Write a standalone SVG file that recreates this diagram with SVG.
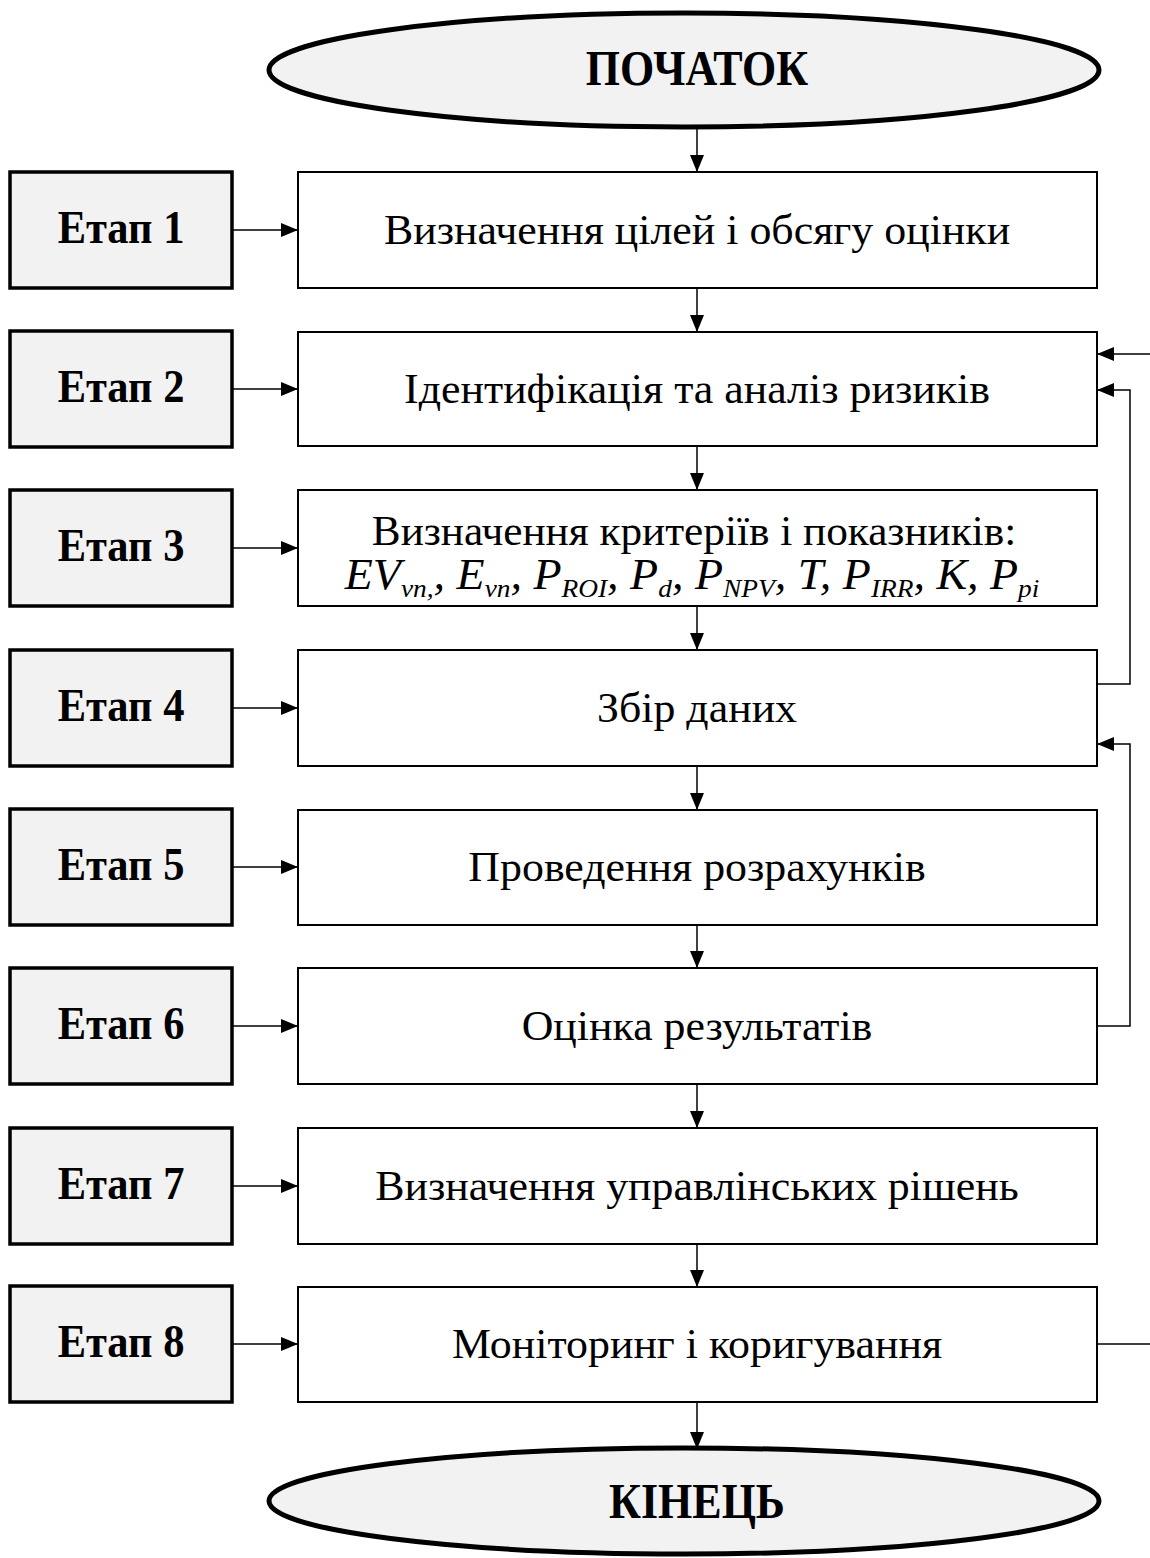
<svg xmlns="http://www.w3.org/2000/svg" width="1150" height="1558" viewBox="0 0 1150 1558">
  <style>
    .term { fill: #f2f2f2; stroke: #000; stroke-width: 5; }
    .stage { fill: #f2f2f2; stroke: #000; stroke-width: 3.5; }
    .step { fill: #fff; stroke: #000; stroke-width: 2; }
    .lbl { font-family: "Liberation Serif", "Times New Roman", serif; fill: #000; text-anchor: middle; }
    .ttl { font-size: 44px; font-weight: bold; }
    .stg { font-size: 42.5px; font-weight: bold; }
    .txt { font-size: 42px; }
    .it { font-style: italic; }
    .sub { font-size: 25px; }
    .wire { fill: none; stroke: #000; stroke-width: 1.5; }
  </style>
  <defs>
    <marker id="ah" viewBox="0 0 17 14" refX="17" refY="7" markerWidth="17" markerHeight="14" markerUnits="userSpaceOnUse" orient="auto">
      <path d="M0,0 L17,7 L0,14 Z" fill="#000"/>
    </marker>
  </defs>
  <rect width="1150" height="1558" fill="#fff"/>

  <!-- connectors -->
  <g id="connectors" class="wire">
    <line x1="697" y1="127" x2="697" y2="172" marker-end="url(#ah)"/>
    <line x1="697" y1="288" x2="697" y2="332" marker-end="url(#ah)"/>
    <line x1="697" y1="446" x2="697" y2="490" marker-end="url(#ah)"/>
    <line x1="697" y1="606" x2="697" y2="650" marker-end="url(#ah)"/>
    <line x1="697" y1="766" x2="697" y2="810" marker-end="url(#ah)"/>
    <line x1="697" y1="925" x2="697" y2="968" marker-end="url(#ah)"/>
    <line x1="697" y1="1084" x2="697" y2="1128" marker-end="url(#ah)"/>
    <line x1="697" y1="1244" x2="697" y2="1287" marker-end="url(#ah)"/>
    <line x1="697" y1="1402" x2="697" y2="1449" marker-end="url(#ah)"/>

    <line x1="232" y1="230" x2="298" y2="230" marker-end="url(#ah)"/>
    <line x1="232" y1="389" x2="298" y2="389" marker-end="url(#ah)"/>
    <line x1="232" y1="548" x2="298" y2="548" marker-end="url(#ah)"/>
    <line x1="232" y1="708" x2="298" y2="708" marker-end="url(#ah)"/>
    <line x1="232" y1="867" x2="298" y2="867" marker-end="url(#ah)"/>
    <line x1="232" y1="1026" x2="298" y2="1026" marker-end="url(#ah)"/>
    <line x1="232" y1="1186" x2="298" y2="1186" marker-end="url(#ah)"/>
    <line x1="232" y1="1344" x2="298" y2="1344" marker-end="url(#ah)"/>

    <!-- feedback loops on the right -->
    <line x1="1150" y1="354" x2="1097" y2="354" marker-end="url(#ah)"/>
    <polyline points="1097,684 1130,684 1130,390 1097,390" marker-end="url(#ah)"/>
    <polyline points="1097,1026 1130,1026 1130,744 1097,744" marker-end="url(#ah)"/>
    <line x1="1097" y1="1344" x2="1150" y2="1344"/>
  </g>

  <g id="start">
    <ellipse class="term" cx="684" cy="70" rx="415" ry="57"/>
    <text class="lbl ttl" transform="translate(697,85) scale(1,1.15)">ПОЧАТОК</text>
  </g>

  <g id="stage1"><rect class="stage" x="10" y="172" width="222" height="116"/><text class="lbl stg" transform="translate(121,243) scale(1,1.1)">Етап 1</text></g>
  <g id="stage2"><rect class="stage" x="10" y="331" width="222" height="116"/><text class="lbl stg" transform="translate(121,402) scale(1,1.1)">Етап 2</text></g>
  <g id="stage3"><rect class="stage" x="10" y="490" width="222" height="116"/><text class="lbl stg" transform="translate(121,561) scale(1,1.1)">Етап 3</text></g>
  <g id="stage4"><rect class="stage" x="10" y="650" width="222" height="116"/><text class="lbl stg" transform="translate(121,721) scale(1,1.1)">Етап 4</text></g>
  <g id="stage5"><rect class="stage" x="10" y="809" width="222" height="116"/><text class="lbl stg" transform="translate(121,880) scale(1,1.1)">Етап 5</text></g>
  <g id="stage6"><rect class="stage" x="10" y="968" width="222" height="116"/><text class="lbl stg" transform="translate(121,1039) scale(1,1.1)">Етап 6</text></g>
  <g id="stage7"><rect class="stage" x="10" y="1128" width="222" height="116"/><text class="lbl stg" transform="translate(121,1199) scale(1,1.1)">Етап 7</text></g>
  <g id="stage8"><rect class="stage" x="10" y="1286" width="222" height="116"/><text class="lbl stg" transform="translate(121,1357) scale(1,1.1)">Етап 8</text></g>

  <g id="step1"><rect class="step" x="298" y="172" width="799" height="116"/><text class="lbl txt" transform="translate(697,244) scale(1.045,1)">Визначення цілей і обсягу оцінки</text></g>
  <g id="step2"><rect class="step" x="298" y="332" width="799" height="114"/><text class="lbl txt" transform="translate(697,403) scale(1.045,1)">Ідентифікація та аналіз ризиків</text></g>
  <g id="step3">
    <rect class="step" x="298" y="490" width="799" height="116"/>
    <text class="lbl txt" transform="translate(694,545) scale(1.03,1)">Визначення критеріїв і показників:</text>
    <text class="lbl txt it" transform="translate(692,589) scale(1.095,1.05)">EV<tspan class="sub" dy="8">vn,</tspan><tspan dy="-8">, E</tspan><tspan class="sub" dy="8">vn</tspan><tspan dy="-8">, P</tspan><tspan class="sub" dy="8">ROI</tspan><tspan dy="-8">, P</tspan><tspan class="sub" dy="8">d</tspan><tspan dy="-8">, P</tspan><tspan class="sub" dy="8">NPV</tspan><tspan dy="-8">, T, P</tspan><tspan class="sub" dy="8">IRR</tspan><tspan dy="-8">, К, P</tspan><tspan class="sub" dy="8">pi</tspan></text>
  </g>
  <g id="step4"><rect class="step" x="298" y="650" width="799" height="116"/><text class="lbl txt" transform="translate(697,722) scale(1.045,1)">Збір даних</text></g>
  <g id="step5"><rect class="step" x="298" y="810" width="799" height="115"/><text class="lbl txt" transform="translate(697,881) scale(1.045,1)">Проведення розрахунків</text></g>
  <g id="step6"><rect class="step" x="298" y="968" width="799" height="116"/><text class="lbl txt" transform="translate(697,1040) scale(1.045,1)">Оцінка результатів</text></g>
  <g id="step7"><rect class="step" x="298" y="1128" width="799" height="116"/><text class="lbl txt" transform="translate(697,1200) scale(1.045,1)">Визначення управлінських рішень</text></g>
  <g id="step8"><rect class="step" x="298" y="1287" width="799" height="115"/><text class="lbl txt" transform="translate(697,1358) scale(1.045,1)">Моніторинг і коригування</text></g>

  <g id="end">
    <ellipse class="term" cx="684" cy="1501" rx="415" ry="53"/>
    <text class="lbl ttl" transform="translate(697,1518) scale(1,1.15)">КІНЕЦЬ</text>
  </g>
</svg>
